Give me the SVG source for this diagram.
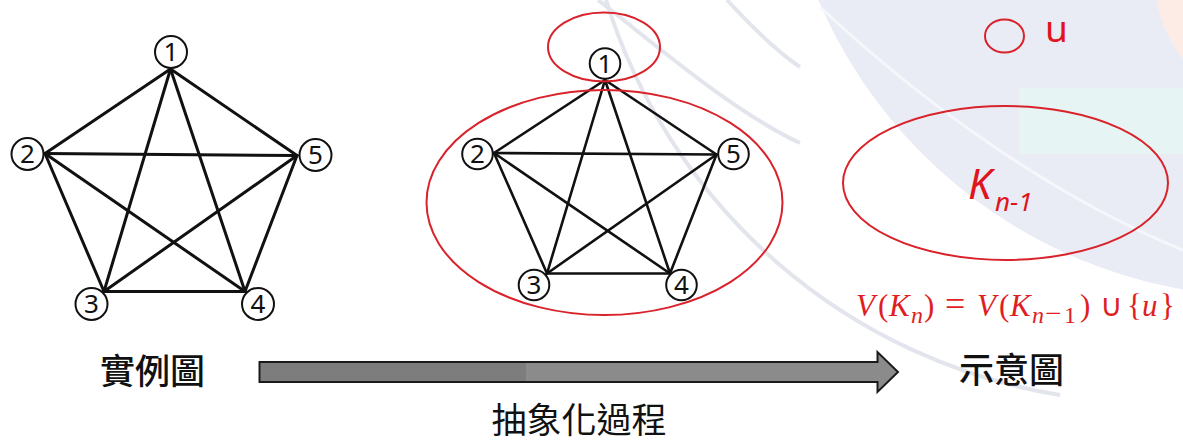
<svg xmlns="http://www.w3.org/2000/svg" width="1183" height="443" viewBox="0 0 1183 443">
<style>
.edge{stroke:#111;stroke-width:3;stroke-linecap:round;fill:none}
.edge2{stroke:#111;stroke-width:2.6;stroke-linecap:round;fill:none}
.node circle{fill:#fff;stroke:#111;stroke-width:2}
.node text{font-family:"Noto Sans","Open Sans",sans-serif;font-size:26px;fill:#111;text-anchor:middle}
.red{fill:none;stroke:#d9222a;stroke-width:2}
.cjk{font-family:"Noto Sans CJK TC","Noto Sans CJK SC",sans-serif;font-size:35px;fill:#111;text-anchor:middle}
.math{font-family:"Liberation Serif",serif;font-size:31px;fill:#e01e22}
.it{font-style:italic}
.sub{font-size:24px}
.wm{fill:none;stroke:#e3e5ec;stroke-width:4}
</style>
<defs>
<linearGradient id="ag" gradientUnits="userSpaceOnUse" x1="259" y1="0" x2="899" y2="0">
<stop offset="0.417" stop-color="#7d7d7d"/><stop offset="0.417" stop-color="#8b8b8b"/>
</linearGradient>
</defs>
<g id="background">
<rect width="1183" height="443" fill="#fff"/>
<circle cx="1268" cy="-192" r="489" fill="#e9ecf5"/>
<rect x="1019" y="88" width="164" height="66" fill="#e6f5f3"/>
<circle cx="1280" cy="-20" r="125" fill="#fdece6"/>
<path d="M606,0 A571,571 0 0 0 1060,395" class="wm"/>
<path d="M598,0 C650,40 730,110 800,143" class="wm"/>
<path d="M727,0 C750,25 775,50 800,67" class="wm"/>
<path d="M820,7 C930,110 1060,200 1183,250" fill="none" stroke="#f6f7fb" stroke-width="3"/>
</g>
<g id="connectors">
<g id="left-edges">
<line class="edge" x1="170.5" y1="69" x2="45" y2="153.5"/>
<line class="edge" x1="170.5" y1="69" x2="297" y2="155.5"/>
<line class="edge" x1="170.5" y1="69" x2="104" y2="291.5"/>
<line class="edge" x1="170.5" y1="69" x2="245" y2="291.5"/>
<line class="edge" x1="45" y1="153.5" x2="297" y2="155.5"/>
<line class="edge" x1="45" y1="153.5" x2="104" y2="291.5"/>
<line class="edge" x1="45" y1="153.5" x2="245" y2="291.5"/>
<line class="edge" x1="297" y1="155.5" x2="104" y2="291.5"/>
<line class="edge" x1="297" y1="155.5" x2="245" y2="291.5"/>
<line class="edge" x1="104" y1="291.5" x2="245" y2="291.5"/>
</g>
<g id="mid-edges">
<line class="edge2" x1="605" y1="80" x2="494" y2="153"/>
<line class="edge2" x1="605" y1="80" x2="716.5" y2="154.5"/>
<line class="edge2" x1="605" y1="80" x2="547" y2="273.5"/>
<line class="edge2" x1="605" y1="80" x2="670" y2="273.5"/>
<line class="edge2" x1="494" y1="153" x2="716.5" y2="154.5"/>
<line class="edge2" x1="494" y1="153" x2="547" y2="273.5"/>
<line class="edge2" x1="494" y1="153" x2="670" y2="273.5"/>
<line class="edge2" x1="716.5" y1="154.5" x2="547" y2="273.5"/>
<line class="edge2" x1="716.5" y1="154.5" x2="670" y2="273.5"/>
<line class="edge2" x1="547" y1="273.5" x2="670" y2="273.5"/>
</g>
<g id="process-arrow">
<path d="M259.5,362 L877.5,362 L877.5,352 L898,372 L877.5,392 L877.5,382 L259.5,382 Z" fill="url(#ag)" stroke="#1a1a1a" stroke-width="2" stroke-linejoin="miter"/>
</g>
</g>
<g id="left-graph">
<g id="L1" class="node"><circle cx="171" cy="52" r="16"/><text x="171" y="61">1</text></g>
<g id="L2" class="node"><circle cx="27.5" cy="154" r="16"/><text x="27.5" y="163">2</text></g>
<g id="L5" class="node"><circle cx="315.5" cy="155" r="16"/><text x="315.5" y="164">5</text></g>
<g id="L3" class="node"><circle cx="91.5" cy="304" r="16"/><text x="91.5" y="313">3</text></g>
<g id="L4" class="node"><circle cx="258" cy="304" r="16"/><text x="258" y="313">4</text></g>
</g>
<g id="mid-graph">
<g id="M1" class="node"><circle cx="605" cy="63.5" r="15.3"/><text x="605" y="72.5">1</text></g>
<g id="M2" class="node"><circle cx="477.5" cy="154" r="15.3"/><text x="477.5" y="163">2</text></g>
<g id="M5" class="node"><circle cx="733.5" cy="154" r="15.3"/><text x="733.5" y="163">5</text></g>
<g id="M3" class="node"><circle cx="534" cy="285" r="15.3"/><text x="534" y="294">3</text></g>
<g id="M4" class="node"><circle cx="681.5" cy="285" r="15.3"/><text x="681.5" y="294">4</text></g>
</g>
<g id="group-u-mid"><ellipse class="red" cx="604" cy="47" rx="56" ry="34.5"/></g>
<g id="group-k-mid"><ellipse class="red" cx="604.5" cy="202.5" rx="178" ry="112.5"/></g>
<g id="node-u">
<ellipse class="red" cx="1004.5" cy="36" rx="19.5" ry="16.5"/>
<text x="1045" y="42" font-family="Noto Sans, Open Sans, sans-serif" font-size="37" fill="#e0141c">u</text>
</g>
<g id="node-k">
<ellipse class="red" cx="1005.5" cy="183" rx="162.5" ry="77"/>
<text x="968" y="198.5" font-family="Noto Sans, Open Sans, sans-serif" font-style="italic" font-size="42" fill="#e0141c">K<tspan x="995" y="210.5" font-size="26">n-1</tspan></text>
</g>
<g id="formula">
<text class="math" y="316"><tspan x="856" class="it">V</tspan><tspan x="878">(</tspan><tspan x="889" class="it">K</tspan><tspan x="911" y="323" class="it sub">n</tspan><tspan x="924" y="316">)</tspan><tspan x="945" font-size="36">=</tspan><tspan x="977" class="it">V</tspan><tspan x="999">(</tspan><tspan x="1010" class="it">K</tspan><tspan x="1032" y="323" class="it sub">n</tspan><tspan x="1045" y="323" font-size="29">−</tspan><tspan x="1064" y="323" class="sub">1</tspan><tspan x="1080" y="316">)</tspan><tspan x="1100">∪</tspan><tspan x="1127">{</tspan><tspan x="1142" class="it">u</tspan><tspan x="1160">}</tspan></text>
</g>
<g id="labels">
<text class="cjk" x="152.5" y="384" font-weight="500">實例圖</text>
<text class="cjk" x="1011.5" y="383" font-weight="500">示意圖</text>
<text class="cjk" x="579" y="433" font-size="33">抽象化過程</text>
</g>
</svg>
